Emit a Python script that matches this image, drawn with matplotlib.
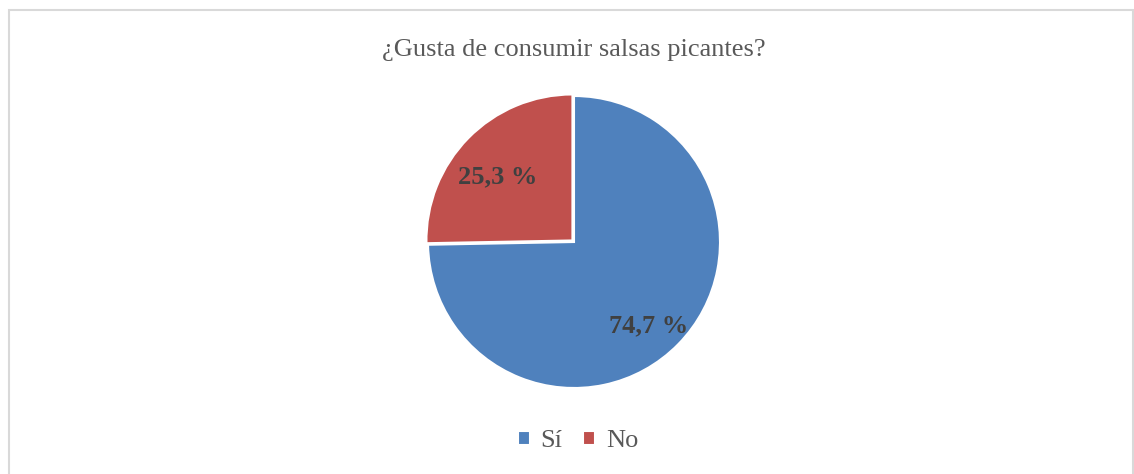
import matplotlib.pyplot as plt
from matplotlib.patches import Rectangle

categories = ["Sí", "No"]
values = [74.7, 25.3]
colors = ["#4f81bd", "#c0504d"]
title = "¿Gusta de consumir salsas picantes?"

plt.rcParams['font.family'] = ['Liberation Serif', 'DejaVu Serif']

fig = plt.figure(figsize=(11.34, 4.74), dpi=100)
W, H = 1134, 474
cx, cy, r = 574, 242, 146
half = 160
ax = fig.add_axes([(cx - half) / W, (H - cy - half) / H, 2 * half / W, 2 * half / H])

def fmt(p):
    return ("%.1f %%" % p).replace(".", ",")

wedges, texts, autotexts = ax.pie(values, colors=colors, startangle=90, counterclock=False,
                                  explode=[0, 0.015], autopct=fmt, pctdistance=0.72,
                                  wedgeprops=dict(edgecolor="white", linewidth=1.5),
                                  textprops=dict(fontsize=19, fontweight="bold", color="#404040"))
# nudge labels down a little like the original
for t in autotexts:
    x, y = t.get_position()
    t.set_position((x, y - 0.07))
ax.set_xlim(-half / r, half / r)
ax.set_ylim(-half / r, half / r)
ax.set_aspect("equal")
ax.axis("off")

fig.text(cx / W, 1 - 50 / H, title, ha="center", va="center", fontsize=19, color="#595959")

leg = fig.legend(wedges, categories, loc="center", bbox_to_anchor=(578 / W, 1 - 441 / H),
                 ncol=2, frameon=False, fontsize=19, handlelength=0.45, handleheight=0.45,
                 handletextpad=0.4, columnspacing=0.8, labelcolor="#595959")

fig.patches.append(Rectangle((9 / W, -0.05), 1124 / W, 1 - 10 / H + 0.05, transform=fig.transFigure,
                             fill=False, edgecolor="#d9d9d9", linewidth=1.5))

fig.savefig("out.png", dpi=100)
